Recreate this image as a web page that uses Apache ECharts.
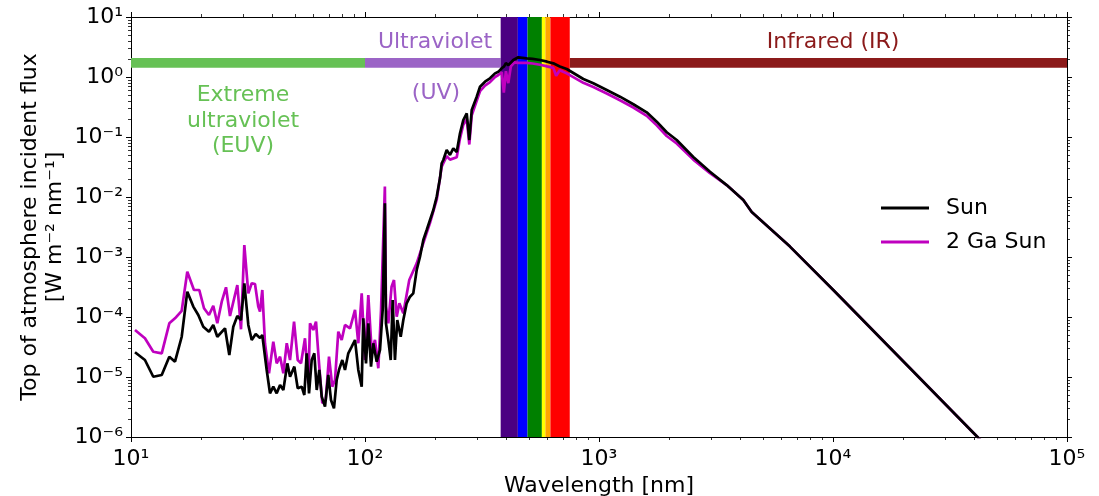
<!DOCTYPE html>
<html><head><meta charset="utf-8">
<script src="https://cdn.jsdelivr.net/npm/echarts@6/dist/echarts.min.js"></script>
<style>html,body{margin:0;padding:0;background:#fff}#c{width:1099px;height:496px}</style>
</head><body><div id="c"></div><script>
// ---------------- data ----------------
const sunWl = [
 10.4, 11.47, 12.45, 13.53, 14.58, 15.42, 16.47, 17.4, 18.46, 19.39,
 20.37, 21.54, 22.47, 23.38, 25.22, 26.31, 27.36, 28.47, 29.52, 30.5,
 31.72, 32.8, 34.12, 35.59, 36.4, 38.01, 39.26, 40.56, 41.94, 43.35,
 44.78, 46.57, 47.82, 49.89, 51.58, 53.65, 55.04, 56.36, 57.65, 59.19,
 60.73, 62.18, 63.79, 65.31, 67.46, 69.68, 71.55, 73.69, 75.68, 77.41,
 79.98, 82.13, 84.84, 87.75, 90.65, 93.63, 96.8, 98.33, 101, 103.3,
 106.1, 108.5, 112.2, 115.9, 119, 121.6, 122.9, 125.8, 128.8, 131.3,
 134.3, 137.4, 142.1, 145.8, 150.7, 155.7, 160.8, 166.3, 171.8, 177.5,
 183.5, 189.6, 195.9, 202.5, 209.2, 212.7, 216.1, 223.4, 230.8, 238.4,
 246.6, 254.7, 263.1, 272.1, 279.1, 285.8, 300.2, 310.1, 325.7, 342.1,
 359.4, 371.3, 384, 393, 400, 409.6, 430.3, 452, 490.9, 520,
 559.7, 600, 637.9, 680, 727.8, 857, 945.4, 1079, 1229, 1402,
 1599, 1765, 1947, 2148, 2529, 2981, 3513, 4137, 4494, 6549,
 10030, 39780, 45000
];
const sunFlux = [
 2.58e-5, 1.92e-5, 1.01e-5, 1.08e-5, 2.18e-5, 1.80e-5, 4.69e-5, 2.64e-4, 1.49e-4, 1.08e-4,
 6.89e-5, 5.69e-5, 7.36e-5, 4.69e-5, 6.48e-5, 2.33e-5, 6.89e-5, 1.04e-4, 8.91e-5, 3.65e-4,
 7.36e-5, 4.14e-5, 5.21e-5, 4.47e-5, 5.01e-5, 1.31e-5, 5.35e-6, 6.89e-6, 5.35e-6, 7.36e-6,
 6.07e-6, 1.69e-5, 1.01e-5, 1.49e-5, 6.48e-6, 6.89e-6, 5.01e-6, 2.48e-5, 5.35e-6, 1.92e-5,
 2.48e-5, 6.07e-6, 1.31e-5, 4.70e-6, 3.20e-6, 1.08e-5, 4.14e-6, 3.01e-6, 8.91e-6, 1.31e-5,
 1.92e-5, 1.31e-5, 2.48e-5, 3.20e-5, 4.14e-5, 1.31e-5, 6.89e-6, 9.51e-5, 1.69e-5, 7.85e-5,
 1.49e-5, 3.65e-5, 1.8e-5, 2.82e-5, 1.31e-4, 7.85e-3, 7.85e-5, 4.14e-5, 1.92e-5, 1.92e-4,
 1.92e-5, 8.91e-5, 4.69e-5, 8.91e-5, 1.69e-4, 2.18e-4, 2.48e-4, 6.07e-4, 1.01e-3, 1.92e-3,
 2.82e-3, 4.14e-3, 6.07e-3, 1.01e-2, 2.07e-2, 3.65e-2, 4.14e-2, 6.07e-2, 5.01e-2, 6.48e-2,
 5.62e-2, 0.115, 0.192, 0.248, 0.0891, 0.282, 0.47, 0.689, 0.835, 0.951,
 1.15, 1.22, 1.40, 1.5, 1.7, 1.58, 1.92, 2.13, 2.05, 2.0,
 1.92, 1.8, 1.69, 1.5, 1.36, 0.926, 0.785, 0.607, 0.47, 0.351,
 0.258, 0.18, 0.12, 0.0891, 0.0464, 0.0264, 0.0158, 0.00891, 0.00562, 1.49e-3,
 2.82e-4, 1.18e-6, 7.2e-7
];
const youngWl = [
 10.4, 11.47, 12.45, 13.53, 14.58, 15.42, 16.47, 17.4, 18.58, 19.58,
 20.51, 21.54, 22.47, 23.38, 24.42, 25.47, 26.49, 28.47, 29.52, 30.5,
 31.72, 32.8, 33.88, 34.99, 35.59, 36.4, 37.37, 38.88, 40.56, 41.94,
 43.35, 44.78, 46.3, 47.82, 49.75, 51.58, 53.28, 55.41, 57.26, 58.21,
 60.13, 61.75, 63.61, 65.7, 67.93, 70.18, 72.48, 74.45, 76.89, 79.5,
 82.13, 86.29, 90.65, 93.63, 96.8, 100, 103.3, 106.8, 110.3, 114,
 117.1, 121.6, 122.9, 125.8, 129.9, 133, 136.6, 140.2, 145.8, 154.6,
 166.3, 177.5, 189.6, 202.5, 212.7, 223.4, 230.8, 246.6, 254.7, 263.1,
 272.1, 279.1, 285.8, 300.2, 310.1, 325.7, 342.1, 359.4, 371.3, 384,
 392, 400, 409.6, 420, 435, 452, 490.9, 520, 559.7, 600,
 637.9, 656, 680, 727.8, 857, 945.4, 1079, 1229, 1402, 1599,
 1765, 1947, 2148, 2529, 2981, 3513, 4137, 4494, 6549, 10030,
 39780, 45000
];
const youngFlux = [
 6.07e-5, 4.42e-5, 2.64e-5, 2.48e-5, 7.85e-5, 9.51e-5, 1.27e-4, 5.69e-4, 2.82e-4, 2.82e-4,
 1.40e-4, 1.08e-4, 1.53e-4, 7.85e-5, 1.80e-4, 3.13e-4, 1.04e-4, 3.41e-4, 6.24e-5, 1.58e-3,
 2.48e-4, 3.65e-4, 3.55e-4, 1.49e-4, 1.23e-4, 2.82e-4, 3.65e-5, 1.15e-5, 3.88e-5, 1.69e-5,
 2.18e-5, 1.15e-5, 3.65e-5, 1.92e-5, 8.35e-5, 1.92e-5, 1.69e-5, 4.42e-5, 7.85e-6, 7.85e-5,
 6.07e-5, 8.35e-5, 1.69e-5, 3.65e-6, 4.14e-6, 2.18e-5, 6.89e-6, 8.91e-6, 5.69e-5, 4.14e-5,
 7.36e-5, 6.48e-5, 1.31e-4, 3.65e-5, 2.48e-4, 1.92e-5, 2.33e-4, 2.64e-5, 4.14e-5, 1.40e-5,
 1.31e-4, 1.49e-2, 1.5e-4, 7.85e-5, 3.20e-4, 4.14e-4, 1.01e-4, 1.69e-4, 1.15e-4, 4.14e-4,
 7.85e-4, 1.7e-3, 3.7e-3, 9.0e-3, 3.2e-2, 4.8e-2, 4.2e-2, 4.6e-2, 9.5e-2, 0.16,
 0.20, 0.075, 0.23, 0.40, 0.58, 0.72, 0.82, 1.0, 1.08, 1.2,
 0.55, 1.25, 0.79, 1.5, 1.75, 1.72, 1.72, 1.68, 1.6, 1.5,
 1.42, 1.05, 1.3, 1.15, 0.80, 0.68, 0.53, 0.41, 0.31, 0.225,
 0.157, 0.104, 0.078, 0.042, 0.025, 0.0158, 0.00891, 0.00562, 1.49e-3, 2.82e-4,
 1.18e-6, 7.2e-7
];
const seriesNames = ['Sun', '2 Ga Sun'];
const xTickExp = [1, 2, 3, 4, 5];
const xTickLabels = ['10¹', '10²', '10³', '10⁴', '10⁵'];
const yTickExp = [1, 0, -1, -2, -3, -4, -5, -6];
const yTickLabels = ['10¹', '10⁰', '10⁻¹', '10⁻²', '10⁻³', '10⁻⁴', '10⁻⁵', '10⁻⁶'];
const bandLabels = ['Extreme\nultraviolet\n(EUV)', 'Ultraviolet', '(UV)', 'Infrared (IR)'];
const bandStart = [10, 100, 750];
const bandEnd = [100, 380, 100000];
const visStart = [380, 450, 495, 570, 590, 620];
const visEnd = [450, 495, 570, 590, 620, 750];

// ---------------- style ----------------
const FONT = 'DejaVu Sans';
const bandColors = ['#66c155', '#9b64c6', '#8b1a1a'];
const visColors = ['#4b0082', '#0000ff', '#008000', '#ffff00', '#ffa500', '#ff0000'];
const BAND_LO = 1.42, BAND_HI = 2.08;
const X_MIN = 10, X_MAX = 1e5, Y_MIN = 1e-6, Y_MAX = 10;

const pairs = (a, b) => a.map((v, i) => [v, b[i]]);
const xLab = v => { const e = Math.round(Math.log10(v)); const i = xTickExp.indexOf(e); return i >= 0 ? xTickLabels[i] : ''; };
const yLab = v => { const e = Math.round(Math.log10(v)); const i = yTickExp.indexOf(e); return i >= 0 ? yTickLabels[i] : ''; };

const xMinor = [], yMinor = [];
for (let e = 1; e < 5; e++) for (let m = 2; m <= 9; m++) xMinor.push([m * Math.pow(10, e), Y_MIN]);
for (let e = -6; e < 1; e++) for (let m = 2; m <= 9; m++) yMinor.push([X_MIN, m * Math.pow(10, e)]);

const areaData = [];
bandStart.forEach((s, i) => areaData.push([{ xAxis: s, yAxis: BAND_LO, itemStyle: { color: bandColors[i] } }, { xAxis: bandEnd[i], yAxis: BAND_HI }]));
visStart.forEach((s, i) => areaData.push([{ xAxis: s, itemStyle: { color: visColors[i] } }, { xAxis: visEnd[i] }]));

const axisCommon = {
  type: 'log', logBase: 10,
  axisLine: { show: true, lineStyle: { color: '#000', width: 1 } },
  axisTick: { show: true, length: 5, lineStyle: { color: '#000', width: 1 } },
  splitLine: { show: false }, minorTick: { show: false }, minorSplitLine: { show: false }
};
const tickLine = (x1, y1, x2, y2) => ({ type: 'line', shape: { x1, y1, x2, y2 }, style: { stroke: '#000', lineWidth: 0.8 } });

const chart = echarts.init(document.getElementById('c'), null, { renderer: 'canvas' });
chart.setOption({
  animation: false,
  backgroundColor: '#fff',
  textStyle: { fontFamily: FONT },
  grid: { left: 131, top: 17, width: 936, height: 420, containLabel: false, outerBoundsMode: 'none' },
  xAxis: [
    Object.assign({}, axisCommon, { position: 'bottom', min: X_MIN, max: X_MAX, splitNumber: 4,
      axisLabel: { formatter: xLab, fontSize: 22, color: '#000', fontFamily: FONT, margin: 11 },
      name: 'Wavelength [nm]', nameLocation: 'middle', nameGap: 31,
      nameTextStyle: { fontSize: 22, color: '#000', fontFamily: FONT } }),
    Object.assign({}, axisCommon, { position: 'top', min: X_MIN, max: X_MAX, splitNumber: 4, axisLabel: { show: false } })
  ],
  yAxis: [
    Object.assign({}, axisCommon, { position: 'left', min: Y_MIN, max: Y_MAX, splitNumber: 7,
      axisLabel: { formatter: yLab, fontSize: 22, color: '#000', fontFamily: FONT, margin: 8 },
      name: 'Top of atmosphere incident flux\n[W m⁻² nm⁻¹]', nameLocation: 'middle', nameRotate: 90, nameGap: 63, nameMoveOverlap: false,
      nameTextStyle: { fontSize: 22, color: '#000', fontFamily: FONT, lineHeight: 25, align: 'center' } }),
    Object.assign({}, axisCommon, { position: 'right', min: Y_MIN, max: Y_MAX, splitNumber: 7, axisLabel: { show: false } })
  ],
  legend: {
    data: seriesNames.map((n, i) => ({ name: n, icon: 'rect', itemStyle: { color: i === 0 ? '#000' : '#bf00bf' } })),
    orient: 'vertical', left: 876, top: 190, itemWidth: 48, itemHeight: 3, itemGap: 8,
    textStyle: { fontSize: 22, color: '#000', fontFamily: FONT, padding: [0, 0, 0, 12], lineHeight: 26 },
    backgroundColor: 'transparent'
  },
  graphic: [
    { type: 'text', x: 243, y: 121, silent: true, style: { text: bandLabels[0], fill: bandColors[0], font: '22px "DejaVu Sans"', align: 'center', verticalAlign: 'middle', lineHeight: 25.5 } },
    { type: 'text', x: 435, y: 42, silent: true, style: { text: bandLabels[1], fill: bandColors[1], font: '22px "DejaVu Sans"', align: 'center', verticalAlign: 'middle' } },
    { type: 'text', x: 436, y: 93, silent: true, style: { text: bandLabels[2], fill: bandColors[1], font: '22px "DejaVu Sans"', align: 'center', verticalAlign: 'middle' } },
    { type: 'text', x: 833, y: 42, silent: true, style: { text: bandLabels[3], fill: bandColors[2], font: '22px "DejaVu Sans"', align: 'center', verticalAlign: 'middle' } }
  ],
  series: [
    { name: 'bands', type: 'line', data: [], silent: true, z: 1,
      markArea: { silent: true, itemStyle: { opacity: 1 }, data: areaData } },
    { name: 'xminor', type: 'custom', data: xMinor, clip: false, silent: true, z: 5,
      renderItem: (params, api) => {
        const p = api.coord([api.value(0), api.value(1)]); const cs = params.coordSys; const x = Math.round(p[0]) + 0.5;
        return { type: 'group', children: [tickLine(x, cs.y + cs.height, x, cs.y + cs.height + 3), tickLine(x, cs.y, x, cs.y - 3)] };
      } },
    { name: 'yminor', type: 'custom', data: yMinor, clip: false, silent: true, z: 5,
      renderItem: (params, api) => {
        const p = api.coord([api.value(0), api.value(1)]); const cs = params.coordSys; const y = Math.round(p[1]) + 0.5;
        return { type: 'group', children: [tickLine(cs.x, y, cs.x - 3, y), tickLine(cs.x + cs.width, y, cs.x + cs.width + 3, y)] };
      } },
    { name: seriesNames[1], type: 'line', data: pairs(youngWl, youngFlux), symbol: 'none', showSymbol: false, z: 3,
      lineStyle: { color: '#bf00bf', width: 2.7 }, itemStyle: { color: '#bf00bf' } },
    { name: seriesNames[0], type: 'line', data: pairs(sunWl, sunFlux), symbol: 'none', showSymbol: false, z: 4,
      lineStyle: { color: '#000', width: 2.7 }, itemStyle: { color: '#000' } }
  ]
});
</script></body></html>
